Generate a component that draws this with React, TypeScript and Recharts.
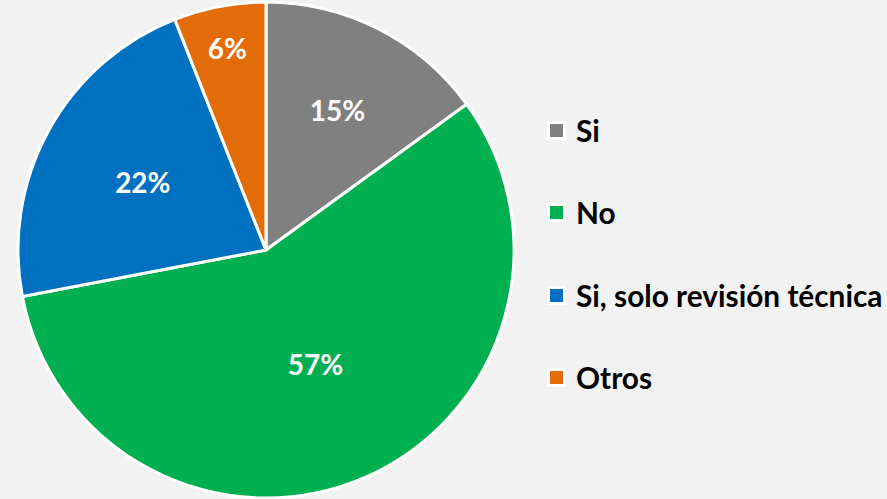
import { PieChart, Pie, Cell, Legend } from 'recharts';

const categories = ['Si', 'No', 'Si, solo revisión técnica', 'Otros'];
const shares = [15, 57, 22, 6];
const colors = ['#808080', '#00B050', '#0070C0', '#E36C09'];

const data = categories.map((name, i) => ({ name, value: shares[i] }));

const RAD = Math.PI / 180;

// Excel "best fit": small slices get their label pushed further out
const renderLabel = (props: any) => {
  const { cx, cy, midAngle, outerRadius, value } = props;
  const k = 0.5 + 0.33 * Math.exp(-(value - 6) / 10);
  const r = outerRadius * k;
  const x = cx + r * Math.cos(-midAngle * RAD);
  const y = cy + r * Math.sin(-midAngle * RAD);
  return (
    <text
      x={x}
      y={y}
      fill="#fff"
      textAnchor="middle"
      dominantBaseline="central"
      fontFamily="Lato, 'Open Sans', sans-serif"
      fontWeight={700}
      fontSize={28}
    >
      {`${value}%`}
    </text>
  );
};

const LegendList = () => (
  <div style={{ display: 'flex', flexDirection: 'column' }}>
    {data.map((d, i) => (
      <div
        key={d.name}
        style={{ display: 'flex', alignItems: 'center', height: 82.5 }}
      >
        <span
          style={{
            display: 'inline-block',
            width: 13,
            height: 13,
            background: colors[i],
            border: '3px solid #fff',
            marginRight: 10,
          }}
        />
        <span
          style={{
            fontFamily: "Lato, 'Open Sans', sans-serif",
            fontWeight: 700,
            fontSize: 29.8,
            color: '#000',
            whiteSpace: 'nowrap',
          }}
        >
          {d.name}
        </span>
      </div>
    ))}
  </div>
);

export default function App() {
  return (
    <div style={{ position: 'fixed', left: 0, top: 0, width: 887, height: 499, background: '#F2F2F2' }}>
      <PieChart width={887} height={499} margin={{ top: 0, right: 0, bottom: 0, left: 0 }}>
        <Pie
          data={data}
          dataKey="value"
          nameKey="name"
          cx={266}
          cy={250}
          outerRadius={248}
          startAngle={90}
          endAngle={-270}
          stroke="#fff"
          strokeWidth={3}
          labelLine={false}
          label={renderLabel}
          isAnimationActive={false}
        >
          {data.map((d, i) => (
            <Cell key={d.name} fill={colors[i]} />
          ))}
        </Pie>
        <Legend
          layout="vertical"
          content={<LegendList />}
          wrapperStyle={{ left: 547, top: 89, width: 340 }}
        />
      </PieChart>
    </div>
  );
}
